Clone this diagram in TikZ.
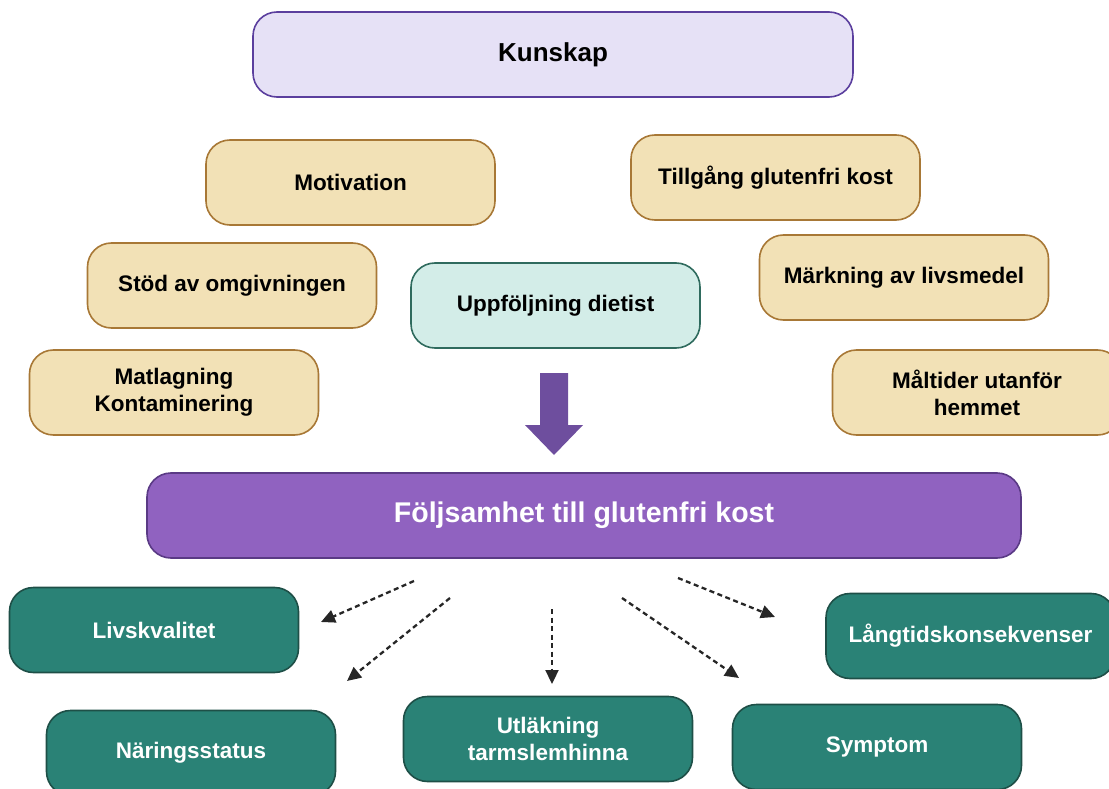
\documentclass[tikz,border=0pt]{standalone}
\usepackage{fontspec}
\setmainfont{Liberation Sans}
\usepackage{tikz}
\usetikzlibrary{positioning}
\usetikzlibrary{arrows.meta, shapes}
\definecolor{lavfill}{HTML}{E6E1F6}
\definecolor{lavline}{HTML}{5B3F9E}
\definecolor{wheatfill}{HTML}{F2E1B6}
\definecolor{wheatline}{HTML}{A87836}
\definecolor{mintfill}{HTML}{D3EDE8}
\definecolor{mintline}{HTML}{2F6B5E}
\definecolor{purplefill}{HTML}{9062C0}
\definecolor{purpleline}{HTML}{5A3A85}
\definecolor{arrowpurple}{HTML}{6E4E9E}
\definecolor{tealfill}{HTML}{2A8276}
\definecolor{tealline}{HTML}{1E4F47}
\def\boxfont{\bfseries\fontsize{22.5}{27}\selectfont}
\tikzstyle{box} = [rectangle, rounded corners=24pt, line width=1.6pt, minimum width=289pt, minimum height=85pt, align=center, text=black, font=\boxfont]
\tikzstyle{factor} = [box, fill=wheatfill, draw=wheatline]
\tikzstyle{outcome} = [box, fill=tealfill, draw=tealline, text=white]
\tikzstyle{effect} = [line width=2.3pt, dash pattern=on 5pt off 3.5pt, draw=black!85, -{Triangle[length=14pt,width=13pt]}]

\begin{document}
\begin{tikzpicture}[x=1pt,y=-1pt]
\useasboundingbox (0,0) rectangle (1109,789);
\node (kunskap) at (553,54.5) [box, fill=lavfill, draw=lavline, minimum width=600pt, font=\bfseries\fontsize{26}{30}\selectfont] {Kunskap};
\node (motivation) at (350.5,182.5) [factor] {Motivation};
\node (tillgang) at (775.5,177.5) [factor] {Tillgång glutenfri kost};
\node (stod) at (232,285.5) [factor] {Stöd av omgivningen};
\node (markning) at (904,277.5) [factor] {Märkning av livsmedel};
\node (uppfoljning) at (555.5,305.5) [box, fill=mintfill, draw=mintline] {Uppföljning dietist};
\node (matlagning) at (174,392.5) [factor] {Matlagning\\Kontaminering};
\node (maltider) at (977,392.5) [factor] {Måltider utanför\\hemmet};
% big arrow
\fill[arrowpurple] (540,373) -- (568,373) -- (568,425) -- (583,425) -- (554,455) -- (525,425) -- (540,425) -- cycle;
\node (foljsamhet) at (584,515.5) [box, fill=purplefill, draw=purpleline, minimum width=874pt, text=white, font=\bfseries\fontsize{28.5}{32}\selectfont] {Följsamhet till glutenfri kost};
\node (livskvalitet) at (154,630) [outcome] {Livskvalitet};
\node (naring) at (191,753) [outcome] {Näringsstatus};
\node (utlakning) at (548,739) [outcome] {Utläkning\\tarmslemhinna};
\node (langtid) at (970.5,636) [outcome] {Långtidskonsekvenser};
\node (symptom) at (877,747) [outcome] {Symptom};
% dashed effects
\coordinate (s1) at (414,581);
\coordinate (t1) at (321,622);
\coordinate (s2) at (450,598);
\coordinate (t2) at (347,681);
\coordinate (s3) at (552,609);
\coordinate (t3) at (552,684);
\coordinate (s4) at (622,598);
\coordinate (t4) at (739,678);
\coordinate (s5) at (678,578);
\coordinate (t5) at (775,617);
\draw[effect] (s1) -- (t1);
\draw[effect] (s2) -- (t2);
\draw[effect] (s3) -- (t3);
\draw[effect] (s4) -- (t4);
\draw[effect] (s5) -- (t5);
\end{tikzpicture}
\end{document}
